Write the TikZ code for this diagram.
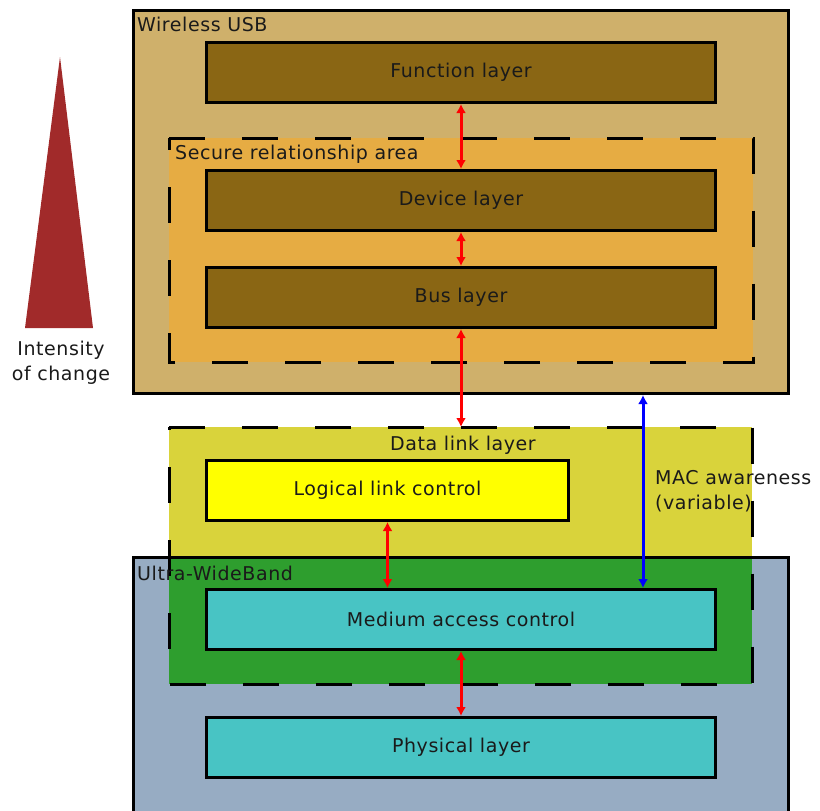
\documentclass[tikz,border=0pt]{standalone}
\usepackage{fontspec}
\setmainfont[LetterSpace=3]{DejaVu Sans}
\usepackage{tikz}
\usetikzlibrary{arrows.meta}
\definecolor{usbtan}{HTML}{CFB06B}
\definecolor{secorange}{HTML}{E6AC43}
\definecolor{layerbrown}{HTML}{8A6614}
\definecolor{dllolive}{HTML}{D9D33B}
\definecolor{uwbgrey}{HTML}{97ACC3}
\definecolor{overgreen}{HTML}{2E9E2E}
\definecolor{maccyan}{HTML}{48C4C4}
\definecolor{llcyellow}{HTML}{FFFF00}
\definecolor{changered}{HTML}{A12A2A}
\definecolor{txt}{HTML}{1A1A1A}
\tikzset{
  area/.style={anchor=north west, inner sep=0pt, draw=none},
  layer/.style={draw=black, line width=3pt, anchor=north west, inner sep=0pt,
    minimum width=509pt, minimum height=60pt, text=txt},
  dashline/.style={line width=3pt, dash pattern=on 36pt off 37pt},
  boxline/.style={line width=3pt, draw=black},
  redarrow/.style={draw=red, line width=3pt, {Latex[length=9pt,width=10pt]}-{Latex[length=9pt,width=10pt]}},
  bluearrow/.style={draw=blue, line width=3pt, {Latex[length=9pt,width=10pt]}-{Latex[length=9pt,width=10pt]}},
  lbl/.style={text=txt, inner sep=0pt}
}

\begin{document}
\begin{tikzpicture}[x=1pt,y=-1pt,font=\fontsize{19}{25}\selectfont]
  \useasboundingbox (0,0) rectangle (820,811);

  \fill[changered] (60,57) -- (93,328) -- (25,328) -- cycle;
  \node[lbl, align=center] (change) at (61,363) {Intensity\\of change};

  \node[area, fill=usbtan, minimum width=655pt, minimum height=383pt] (wusb) at (133.5,10.5) {};
  \draw[boxline] (wusb.south west) rectangle (wusb.north east);
  \node[lbl, anchor=west] (wusbname) at (137,24) {Wireless USB};

  \node[area, fill=secorange, minimum width=584pt, minimum height=224pt] (secure) at (169,138) {};
  \draw[dashline] (secure.north west) -- (secure.north east) -- (secure.south east) -- (secure.south west) -- cycle;
  \node[lbl, anchor=west] (securename) at (175,154) {Secure relationship area};

  \node[layer, fill=layerbrown] (func) at (205,41) {Function layer};
  \node[layer, fill=layerbrown] (dev) at (205,169) {Device layer};
  \node[layer, fill=layerbrown] (bus) at (205,266) {Bus layer};

  \node[area, fill=dllolive, minimum width=583pt, minimum height=257pt] (dll) at (169,427) {};
  \node[area, fill=uwbgrey, minimum width=655pt, minimum height=280pt] (uwb) at (133.5,557.5) {};
  \fill[overgreen] (dll.west |- uwb.north) rectangle (dll.south east);
  \draw[boxline] (uwb.south west) rectangle (uwb.north east);
  \draw[dashline] (dll.north west) -- (dll.north east) -- (dll.south east) -- (dll.south west) -- cycle;
  \node[lbl] (dllname) at (463,445) {Data link layer};
  \node[lbl, anchor=west] (uwbname) at (137,573) {Ultra-WideBand};

  \node[layer, fill=llcyellow, minimum width=362pt] (llc) at (205,459) {Logical link control};
  \node[layer, fill=maccyan] (mac) at (205,588) {Medium access control};
  \node[layer, fill=maccyan] (phy) at (205,716) {Physical layer};

  \draw[redarrow] (func.south) -- (dev.north);
  \draw[redarrow] (dev.south) -- (bus.north);
  \draw[redarrow] (bus.south) -- (bus.south |- dll.north);
  \draw[redarrow] (llc.south) -- (llc.south |- mac.north);
  \draw[redarrow] (mac.south) -- (phy.north);

  \coordinate (aware) at (643,395);
  \draw[bluearrow] (aware) -- (aware |- mac.north);
  \node[lbl, anchor=west, align=left] (awarename) at (655,491) {MAC awareness\\(variable)};
\end{tikzpicture}
\end{document}
